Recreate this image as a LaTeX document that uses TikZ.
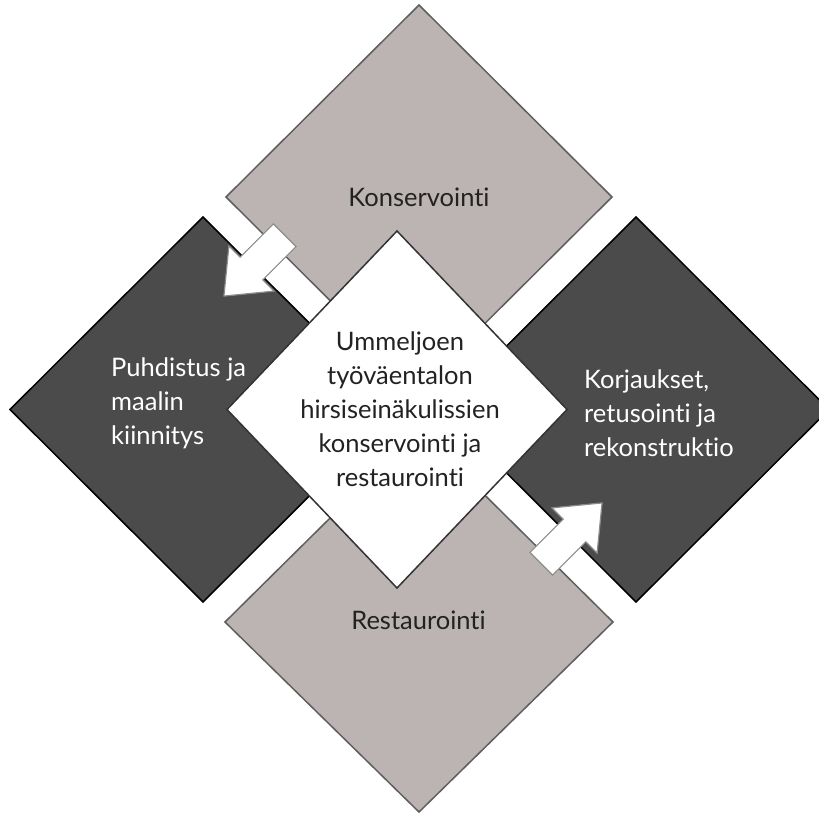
\documentclass[tikz,border=0pt]{standalone}
\usepackage{fontspec}
\setmainfont{Lato}[Ligatures={NoCommon,NoRare}]
\definecolor{lightbox}{HTML}{BCB4B2}
\definecolor{darkbox}{HTML}{4B4B4B}
\definecolor{lightedge}{HTML}{5E5E5E}
\definecolor{arrowedge}{HTML}{8C8C8C}
\definecolor{inktxt}{HTML}{222222}
\begin{document}
\begin{tikzpicture}[x=1pt,y=-1pt,
  lightdiamond/.style={fill=lightbox, draw=lightedge, line width=1.5pt},
  darkdiamond/.style={fill=darkbox, draw=black, line width=1.5pt},
  centerdiamond/.style={fill=white, draw=black!80, line width=1.5pt},
  blockarrowstyle/.style={fill=white, draw=arrowedge, line width=1.2pt},
  basetxt/.style={font=\fontsize{25.5}{34}\selectfont, inner sep=0pt},
  lighttxt/.style={basetxt, text=inktxt},
  darktxt/.style={basetxt, text=white, align=left},
  centertxt/.style={basetxt, text=inktxt, align=center},
  blockarrow/.pic={\path[blockarrowstyle] (0,-16) -- (47,-16) -- (47,-32) -- (86,0) -- (47,32) -- (47,16) -- (0,16) -- cycle;}
]
\useasboundingbox (0,0) rectangle (819,814);
\clip (0,0) rectangle (819,814);
% outer diamonds
\path[lightdiamond] (419,5) -- (612,197) -- (419,389) -- (226,197) -- cycle;
\path[lightdiamond] (419,430) -- (613,622) -- (419,812) -- (225,622) -- cycle;
\path[darkdiamond] (203,217) -- (396,409.5) -- (203,602) -- (10,409.5) -- cycle;
\path[darkdiamond] (636,217) -- (829,409.5) -- (636,602) -- (443,409.5) -- cycle;
% centre diamond
\path[centerdiamond] (397,231) -- (567,409.5) -- (397,588) -- (227,409.5) -- cycle;
% block arrows
\pic[rotate=225] at (284.75,235.25) {blockarrow};
\pic[rotate=45] at (541.25,563.75) {blockarrow};
% texts
\node[lighttxt, anchor=base] (kons) at (419,206) {Konservointi};
\node[lighttxt, anchor=base] (rest) at (418.5,629) {Restaurointi};
\node[darktxt, anchor=west] (puhd) at (111,403.2) {Puhdistus ja\\maalin\\kiinnitys};
\node[darktxt, anchor=west] (korj) at (584,413.2) {Korjaukset,\\retusointi ja\\rekonstruktio};
\node[centertxt] (main) at (400,409.2) {Ummeljoen\\työväentalon\\hirsiseinäkulissien\\konservointi ja\\restaurointi};
\end{tikzpicture}
\end{document}
